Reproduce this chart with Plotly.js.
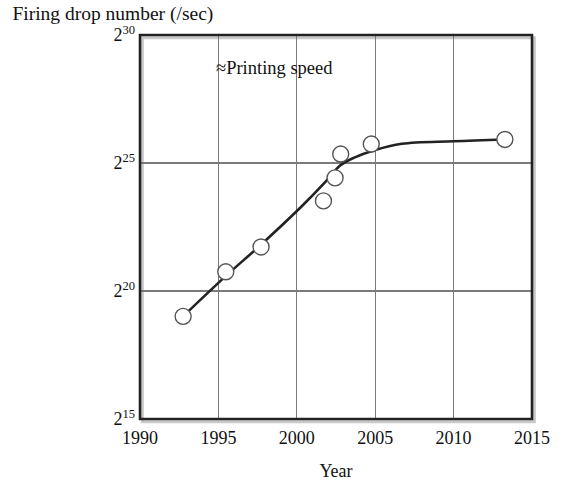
<!DOCTYPE html>
<html>
<head>
<meta charset="utf-8">
<script src="https://cdn.plot.ly/plotly-3.0.1.min.js"></script>
<style>html,body{margin:0;padding:0;background:#fff;}#chart{width:563px;height:481px;}</style>
</head>
<body>
<div id="chart"></div>
<script>
// Measured points (year, log2 of firing drops per second)
const pointYears = [1992.75, 1995.47, 1997.72, 2001.7, 2002.44, 2002.8, 2004.75, 2013.27];
const pointExps  = [19.01, 20.75, 21.72, 23.52, 24.42, 25.35, 25.74, 25.92];
// Trend curve
const curveYears = [1992.75, 1995.5, 1997.7, 2000.3, 2001.9, 2002.76, 2003.7, 2004.9, 2006.7, 2010.0, 2013.27];
const curveExps  = [19.01, 20.6, 21.8, 23.3, 24.31, 24.9, 25.22, 25.49, 25.75, 25.85, 25.92];
// Axis ticks
const xTicks = [1990, 1995, 2000, 2005, 2010, 2015];
const yTicks = [15, 20, 25, 30];
const yTickText = yTicks.map(e => '2<sup>' + e + '</sup>');

const font = 'Liberation Serif, Times New Roman, serif';

const traces = [
  {x: curveYears, y: curveExps, mode: 'lines', type: 'scatter',
   line: {color: '#222', width: 2.6, shape: 'spline', smoothing: 1.0}, hoverinfo: 'skip'},
  {x: pointYears, y: pointExps, mode: 'markers', type: 'scatter',
   marker: {symbol: 'circle', size: 16, color: '#fff', line: {color: '#555', width: 1.4}}}
];

const layout = {
  width: 563, height: 481,
  margin: {l: 140, r: 31, t: 35, b: 62},
  paper_bgcolor: '#fff', plot_bgcolor: '#fff',
  showlegend: false,
  font: {family: font, color: '#111', size: 18},
  title: {text: 'Firing drop number (/sec)', x: 0.022, xref: 'container', xanchor: 'left',
          y: 0.973, yref: 'container', yanchor: 'middle', font: {family: font, size: 19.5, color: '#111'}},
  xaxis: {range: [1990, 2015], tickvals: xTicks, ticktext: xTicks.map(String),
          showgrid: true, gridcolor: '#7a7a7a', gridwidth: 1.3, zeroline: false,
          ticks: '', showline: false, tickfont: {size: 18, family: font}, ticklabelstandoff: 6,
          title: {text: 'Year', font: {size: 18, family: font}, standoff: 17}},
  yaxis: {range: [15, 30], tickvals: yTicks, ticktext: yTickText,
          showgrid: true, gridcolor: '#7a7a7a', gridwidth: 1.3, zeroline: false,
          ticks: '', showline: false, tickfont: {size: 18, family: font}, ticklabelstandoff: 4},
  shapes: [
    {type: 'rect', xref: 'paper', yref: 'paper', x0: 0.006, x1: 1.006, y0: -0.007, y1: 0.993,
     line: {color: '#c8c8c8', width: 3}, layer: 'below'},
    {type: 'rect', xref: 'paper', yref: 'paper', x0: 0, x1: 1, y0: 0, y1: 1,
     line: {color: '#222', width: 2.6}}
  ],
  annotations: [
    {text: '≈Printing speed', xref: 'paper', yref: 'paper', x: 0.19, y: 0.915,
     xanchor: 'left', yanchor: 'middle', showarrow: false, font: {size: 18.5, family: font, color: '#111'}}
  ]
};

Plotly.newPlot('chart', traces, layout, {displayModeBar: false, staticPlot: true});
</script>
</body>
</html>
